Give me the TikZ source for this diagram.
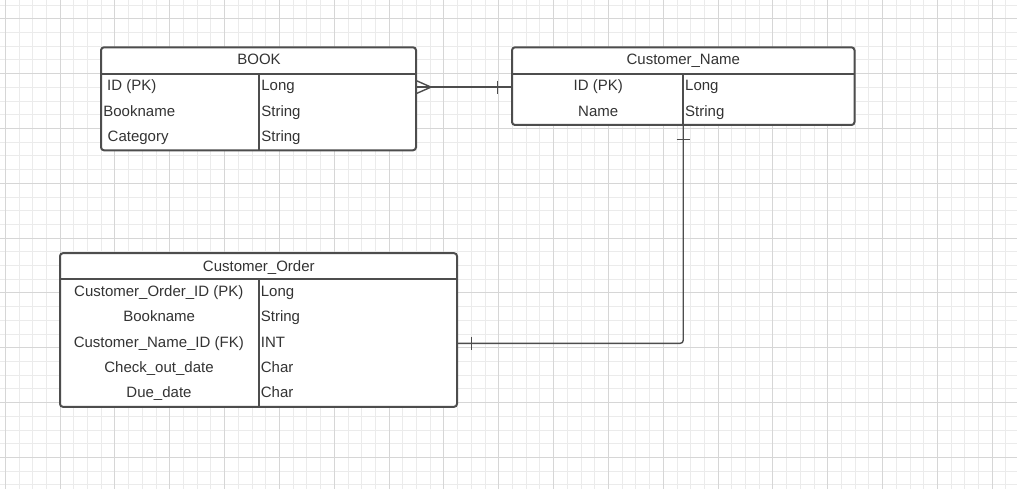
\documentclass[tikz,border=0pt]{standalone}
\usepackage{fontspec}
\setmainfont{Liberation Sans}
\definecolor{gridminor}{HTML}{EBEBEB}
\definecolor{gridmajor}{HTML}{D6D6D6}
\definecolor{linegray}{HTML}{4D4D4D}
\definecolor{ink}{HTML}{333333}

\begin{document}
\begin{tikzpicture}[x=1pt, y=-1pt,
        tablebox/.style={draw=linegray, fill=white, line width=2pt, rounded corners=3pt, inner sep=0pt, outer sep=0pt},
        rule/.style={linegray, line width=2pt},
        txt/.style={text=ink, inner sep=0pt, font=\fontsize{15}{18}\selectfont},
        link/.style={linegray, line width=1.4pt}]
    \useasboundingbox (0,0) rectangle (1017,489);

    % background grid
    \foreach \i in {0,...,73}
        \draw[gridminor, line width=1pt] ({5.3+13.708*\i},0) -- ({5.3+13.708*\i},489);
    \foreach \j in {0,...,35}
        \draw[gridminor, line width=1pt] (0,{5.1+13.708*\j}) -- (1017,{5.1+13.708*\j});
    \foreach \i in {0,...,18}
        \draw[gridmajor, line width=1pt] ({5.3+54.833*\i},0) -- ({5.3+54.833*\i},489);
    \foreach \j in {0,...,8}
        \draw[gridmajor, line width=1pt] (0,{18.8+54.833*\j}) -- (1017,{18.8+54.833*\j});

    % tables
    \node[tablebox, minimum width=315pt, minimum height=103pt] (book) at (258.5, 98.8) {};
    \draw[rule] ([yshift=-27pt]book.north west) -- ([yshift=-27pt]book.north east);
    \draw[rule] ([yshift=-27pt]book.north) -- (book.south);

    \node[tablebox, minimum width=342.5pt, minimum height=77.7pt] (cn) at (683.25, 86.15) {};
    \draw[rule] ([yshift=-27pt]cn.north west) -- ([yshift=-27pt]cn.north east);
    \draw[rule] ([yshift=-27pt]cn.north) -- (cn.south);

    \node[tablebox, minimum width=397pt, minimum height=153.7pt] (co) at (258.5, 330) {};
    \draw[rule] ([yshift=-26.3pt]co.north west) -- ([yshift=-26.3pt]co.north east);
    \draw[rule] ([yshift=-26.3pt]co.north) -- (co.south);

    % BOOK
    \node[txt, anchor=base] (book-title) at (259, 65) {BOOK};
    \node[txt, anchor=base west] (book-id) at (107, 91) {ID (PK)};
    \node[txt, anchor=base west] (book-name) at (103.2, 116.3) {Bookname};
    \node[txt, anchor=base west] (book-cat) at (107.5, 141.6) {Category};
    \node[txt, anchor=base west] (book-id-type) at (261.2, 91) {Long};
    \node[txt, anchor=base west] (book-name-type) at (261.2, 116.3) {String};
    \node[txt, anchor=base west] (book-cat-type) at (261.2, 141.6) {String};

    % Customer_Name
    \node[txt, anchor=base] (cn-title) at (683.3, 65) {Customer\_Name};
    \node[txt, anchor=base] (cn-id) at (598.2, 91) {ID (PK)};
    \node[txt, anchor=base] (cn-name) at (598.2, 116.3) {Name};
    \node[txt, anchor=base west] (cn-id-type) at (685, 91) {Long};
    \node[txt, anchor=base west] (cn-name-type) at (685, 116.3) {String};

    % Customer_Order
    \node[txt, anchor=base] (co-title) at (258.8, 271) {Customer\_Order};
    \node[txt, anchor=base] (co-id) at (158.8, 296.7) {Customer\_Order\_ID (PK)};
    \node[txt, anchor=base] (co-book) at (159.2, 321.9) {Bookname};
    \node[txt, anchor=base] (co-fk) at (158.8, 347.2) {Customer\_Name\_ID (FK)};
    \node[txt, anchor=base] (co-out) at (159, 372.5) {Check\_out\_date};
    \node[txt, anchor=base] (co-due) at (159, 397.6) {Due\_date};
    \node[txt, anchor=base west] (co-id-type) at (260.7, 296.7) {Long};
    \node[txt, anchor=base west] (co-book-type) at (260.7, 321.9) {String};
    \node[txt, anchor=base west] (co-fk-type) at (260.7, 347.2) {INT};
    \node[txt, anchor=base west] (co-out-type) at (260.7, 372.5) {Char};
    \node[txt, anchor=base west] (co-due-type) at (260.7, 397.6) {Char};

    % BOOK -- Customer_Name
    \draw[link] (book.east |- cn-id) -- (cn.west |- cn-id);
    \draw[link] (book.east |- cn-id) ++(0,-6.6) -- ++(15,6.6) -- ++(-15,6.6);
    \draw[link] (cn.west |- cn-id) ++(-14.5,-6.6) -- ++(0,13.2);

    % Customer_Name -- Customer_Order
    \draw[link, rounded corners=3pt] (cn.south) -- (cn.south |- co-fk) -- (co.east |- co-fk);
    \draw[link] (cn.south) ++(-6.6,14.3) -- ++(13.2,0);
    \draw[link] (co.east |- co-fk) ++(14.7,-6.6) -- ++(0,13.2);
\end{tikzpicture}
\end{document}
